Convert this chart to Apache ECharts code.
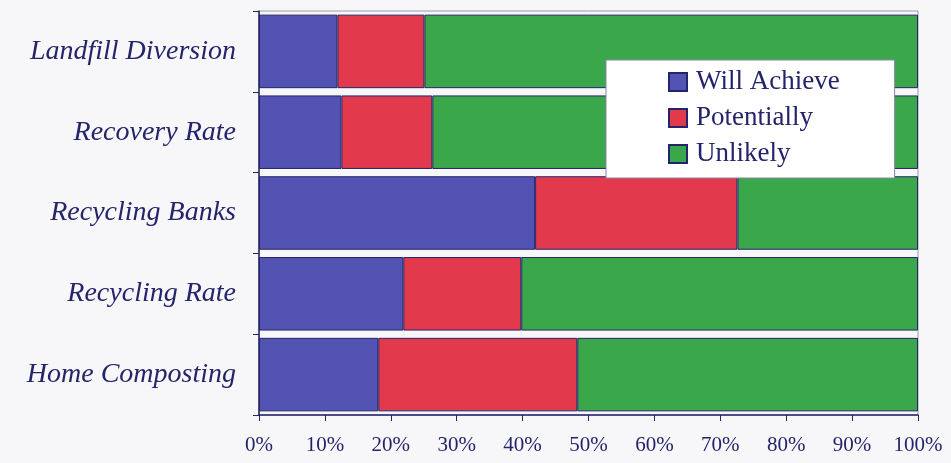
<!DOCTYPE html>
<html>
<head>
<meta charset="utf-8">
<script src="https://cdn.jsdelivr.net/npm/echarts@6/dist/echarts.min.js"></script>
<style>
  html, body { margin: 0; padding: 0; background: #f7f7f9; }
  #chart { width: 951px; height: 463px; }
</style>
</head>
<body>
<div id="chart"></div>
<script>
// Targets, listed bottom to top as the category axis draws them
const categories = ['Home Composting', 'Recycling Rate', 'Recycling Banks', 'Recovery Rate', 'Landfill Diversion'];

// Share of responses (%) per category
const willAchieve = [18.1, 21.9, 41.9, 12.5, 11.9];
const potentially = [30.2, 17.9, 30.7, 13.8, 13.2];
const unlikely    = [51.7, 60.2, 27.4, 73.7, 74.9];

const xTicks = [0, 10, 20, 30, 40, 50, 60, 70, 80, 90, 100];

const navy = '#24246a';
const serif = '"Liberation Serif", "DejaVu Serif", serif';

const chart = echarts.init(document.getElementById('chart'));

function barSeries(name, data, color) {
  return {
    name: name,
    type: 'bar',
    stack: 'total',
    data: data,
    barCategoryGap: '9%',
    itemStyle: { color: color, borderColor: navy, borderWidth: 1 },
    emphasis: { disabled: true }
  };
}

chart.setOption({
  backgroundColor: '#f7f7f9',
  animation: false,
  grid: {
    left: 259, right: 33, top: 11, bottom: 48,
    show: true, borderColor: '#9a9aa8', borderWidth: 1, backgroundColor: 'transparent'
  },
  legend: {
    orient: 'vertical',
    left: 606, top: 60,
    padding: [7, 55, 9, 62],
    backgroundColor: '#ffffff',
    borderColor: '#8888a0',
    borderWidth: 1,
    itemWidth: 18, itemHeight: 18, itemGap: 6,
    icon: 'rect',
    textStyle: { fontFamily: serif, fontSize: 27, color: navy, lineHeight: 30, padding: [0, 0, 0, 4] },
    data: ['Will Achieve', 'Potentially', 'Unlikely']
  },
  xAxis: {
    type: 'value',
    min: xTicks[0], max: xTicks[xTicks.length - 1], interval: 10,
    axisLine: { show: true, lineStyle: { color: navy, width: 1.5 } },
    axisTick: { show: true, length: 6, lineStyle: { color: navy } },
    splitLine: { show: false },
    axisLabel: {
      fontFamily: serif, fontSize: 21, color: navy, margin: 20,
      formatter: v => v + '%'
    }
  },
  yAxis: {
    type: 'category',
    data: categories,
    axisLine: { show: true, lineStyle: { color: navy, width: 1.5 } },
    axisTick: { show: true, length: 6, lineStyle: { color: navy } },
    axisLabel: {
      fontFamily: serif, fontStyle: 'italic', fontSize: 28, color: navy, margin: 23
    }
  },
  series: [
    barSeries('Will Achieve', willAchieve, '#5353b3'),
    barSeries('Potentially', potentially, '#e23a4c'),
    barSeries('Unlikely', unlikely, '#3aa74a')
  ]
});
</script>
</body>
</html>
